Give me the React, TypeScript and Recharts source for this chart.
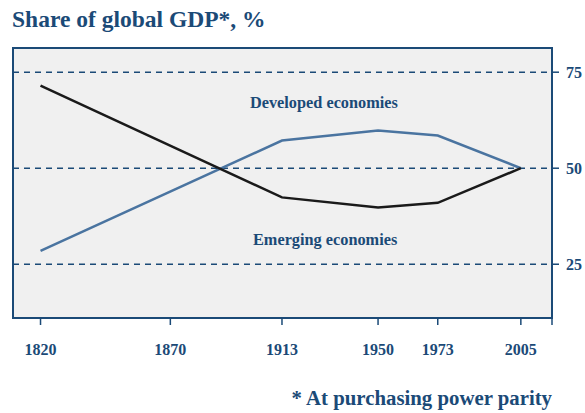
import { LineChart, Line, XAxis, YAxis, CartesianGrid, ReferenceArea } from 'recharts';

document.body.style.margin = '0';

const years = [1820, 1913, 1950, 1973, 2005];
const developed = [28.5, 57.2, 59.8, 58.5, 50];
const emerging = [71.5, 42.4, 39.8, 41.0, 50];
const xTicks = [1820, 1870, 1913, 1950, 1973, 2005, 2017];
const yTicks = [25, 50, 75];

const data = years.map((year, i) => ({ year, developed: developed[i], emerging: emerging[i] }));

const NAVY = '#1b4a77';
const SERIF = '"Liberation Serif", "Times New Roman", serif';

export default function App() {
  const tickStyle = { fill: NAVY, fontSize: 16, fontWeight: 'bold', fontFamily: SERIF };

  return (
    <div style={{ position: 'relative', width: 585, height: 413, background: '#fff', fontFamily: SERIF }}>
      <div style={{ position: 'absolute', left: 12, top: 5, fontSize: 23.5, fontWeight: 'bold', color: NAVY, lineHeight: 1.2 }}>
        Share of global GDP*, %
      </div>
      <LineChart
        width={585}
        height={413}
        data={data}
        margin={{ top: 48, right: 0, left: 13, bottom: 45 }}
      >
        <CartesianGrid
          fill="#f0f0f0"
          stroke={NAVY}
          strokeWidth={1.5}
          strokeDasharray="6 5"
          vertical={false}
        />
        <ReferenceArea x1={1809.4} x2={2017} y1={11} y2={81.3} fill="none" stroke={NAVY} strokeWidth={2} />
        <XAxis
          dataKey="year"
          type="number"
          domain={[1809.4, 2017]}
          ticks={xTicks}
          tickFormatter={(v: number) => (v === 2017 ? '' : String(v))}
          height={50}
          tickSize={7}
          tickMargin={19}
          axisLine={{ stroke: NAVY, strokeWidth: 2 }}
          tickLine={{ stroke: NAVY, strokeWidth: 1.5 }}
          tick={tickStyle}
          interval={0}
        />
        <YAxis
          orientation="right"
          type="number"
          domain={[11, 81.3]}
          ticks={yTicks}
          width={33}
          tickSize={7}
          tickMargin={7}
          axisLine={{ stroke: NAVY, strokeWidth: 2 }}
          tickLine={{ stroke: NAVY, strokeWidth: 1.5 }}
          tick={{ ...tickStyle, textAnchor: 'start' }}
        />
        <Line
          dataKey="developed"
          stroke="#4a74a0"
          strokeWidth={2.5}
          dot={false}
          isAnimationActive={false}
        />
        <Line
          dataKey="emerging"
          stroke="#1a1a1a"
          strokeWidth={2.5}
          dot={false}
          isAnimationActive={false}
        />
      </LineChart>
      <div style={{ position: 'absolute', left: 250, top: 93, fontSize: 16.3, fontWeight: 'bold', color: NAVY, lineHeight: 1.2 }}>
        Developed economies
      </div>
      <div style={{ position: 'absolute', left: 253, top: 230, fontSize: 16.3, fontWeight: 'bold', color: NAVY, lineHeight: 1.2 }}>
        Emerging economies
      </div>
      <div style={{ position: 'absolute', right: 33, top: 386, fontSize: 20.8, fontWeight: 'bold', color: NAVY, lineHeight: 1.2 }}>
        * At purchasing power parity
      </div>
    </div>
  );
}
